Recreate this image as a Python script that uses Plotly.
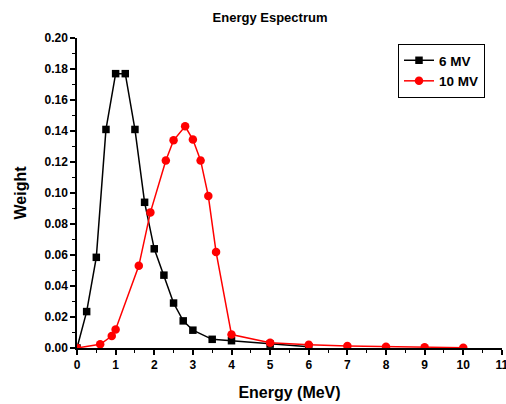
import plotly.graph_objects as go

# 6 MV spectrum
x6 = [0, 0.25, 0.5, 0.75, 1.0, 1.25, 1.5, 1.75, 2.0, 2.25, 2.5, 2.75, 3.0, 3.5, 4.0, 5.0, 6.0]
y6 = [0.0, 0.0235, 0.0585, 0.141, 0.177, 0.177, 0.141, 0.094, 0.064, 0.047, 0.029, 0.0175, 0.0115, 0.0056, 0.0047, 0.0025, 0.0008]

# 10 MV spectrum
x10 = [0, 0.6, 0.9, 1.0, 1.6, 1.9, 2.3, 2.5, 2.8, 3.0, 3.2, 3.4, 3.6, 4.0, 5.0, 6.0, 7.0, 8.0, 9.0, 10.0]
y10 = [0.0, 0.0024, 0.0077, 0.012, 0.053, 0.0875, 0.121, 0.134, 0.143, 0.1345, 0.121, 0.098, 0.062, 0.0087, 0.0034, 0.0021, 0.0013, 0.0008, 0.0005, 0.0002]

xticks = list(range(0, 12))
yticks = [0.00, 0.02, 0.04, 0.06, 0.08, 0.10, 0.12, 0.14, 0.16, 0.18, 0.20]

FONT = "Liberation Sans, Arial, sans-serif"

L, R, T, B = 77, 4, 38, 56
W, H = 506, 404
PW, PH = W - L - R, H - T - B

fig = go.Figure()
fig.add_trace(go.Scatter(
    x=x6, y=y6, name="<b>6 MV</b>", mode="lines+markers",
    line=dict(color="black", width=1.5),
    marker=dict(symbol="square", size=7.5, color="black"),
))
fig.add_trace(go.Scatter(
    x=x10, y=y10, name="<b>10 MV</b>", mode="lines+markers",
    line=dict(color="#ff0000", width=1.5),
    marker=dict(symbol="circle", size=8.5, color="#ff0000"),
))

fig.update_layout(
    width=W, height=H,
    paper_bgcolor="white", plot_bgcolor="white",
    margin=dict(l=L, r=R, t=T, b=B, autoexpand=False),
    font=dict(family=FONT, color="black", size=12),
    title=dict(text="<b>Energy Espectrum</b>", x=270/W, xanchor="center", xref="container",
               y=1 - 17/H, yanchor="middle", yref="container", font=dict(size=13, family=FONT)),
    showlegend=True,
    legend=dict(x=(398 - L)/PW, y=1 + (T - 44)/PH, xref="paper", yref="paper",
                xanchor="left", yanchor="top",
                bordercolor="black", borderwidth=1, bgcolor="white",
                font=dict(size=13.5, family=FONT), tracegroupgap=0,
                itemwidth=30),
)

fig.update_xaxes(
    range=[0, 11.003], tickvals=xticks, ticktext=[f"<b>{v}</b>" for v in xticks],
    showline=True, linecolor="black", linewidth=1.5, showgrid=False, zeroline=False,
    ticks="outside", ticklen=5, tickwidth=1.5, tickcolor="black", automargin=False,
    ticklabeloverflow="allow",
    minor=dict(ticks="outside", ticklen=3, tickwidth=1, tickcolor="black", dtick=0.5, showgrid=False),
    title=dict(text="<b>Energy (MeV)</b>", font=dict(size=16, family=FONT), standoff=16),
    tickfont=dict(size=12, family=FONT),
)
fig.update_yaxes(
    range=[0, 0.20], tickvals=yticks, ticktext=[f"<b>{v:.2f}</b>" for v in yticks],
    showline=True, linecolor="black", linewidth=1.5, showgrid=False, zeroline=False,
    ticks="outside", ticklen=5, tickwidth=1.5, tickcolor="black", automargin=False,
    ticklabeloverflow="allow",
    minor=dict(ticks="outside", ticklen=3, tickwidth=1, tickcolor="black", dtick=0.01, showgrid=False),
    title=dict(text="<b>Weight</b>", font=dict(size=16, family=FONT), standoff=14),
    tickfont=dict(size=12, family=FONT),
)

fig.write_html("out.html", config={"displayModeBar": False},
               post_script="document.body.style.margin='0';")
